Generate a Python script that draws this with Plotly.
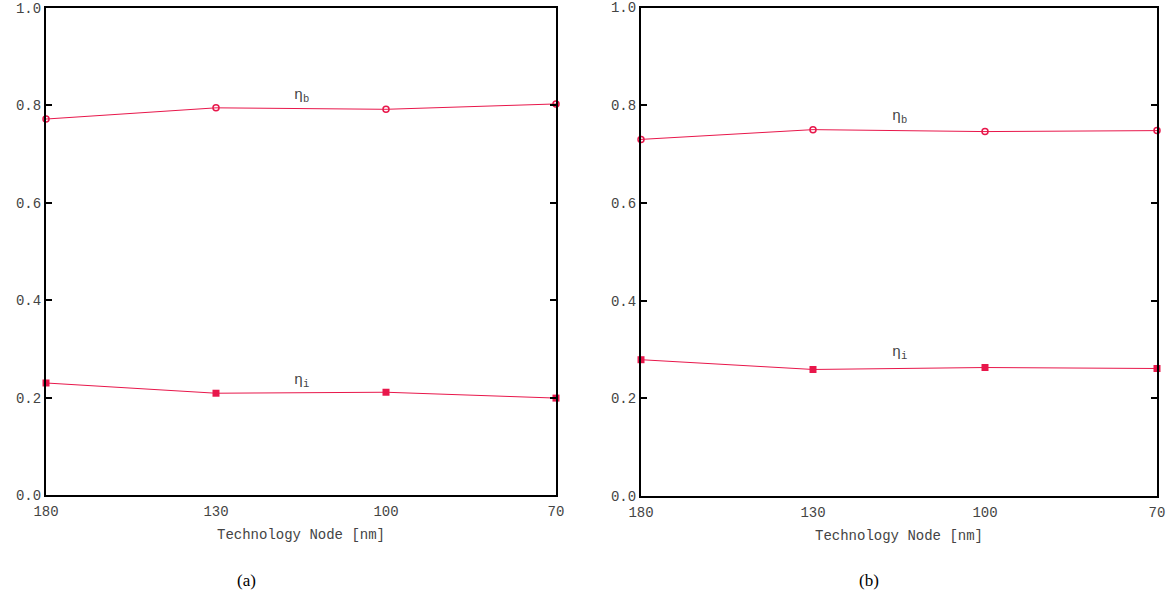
import plotly.graph_objects as go

nodes = ["180", "130", "100", "70"]
eta_b_a = [0.772, 0.795, 0.792, 0.803]
eta_i_a = [0.230, 0.209, 0.211, 0.199]
eta_b_b = [0.730, 0.750, 0.746, 0.748]
eta_i_b = [0.279, 0.259, 0.263, 0.261]
y_ticks = [0.0, 0.2, 0.4, 0.6, 0.8, 1.0]
y_tick_text = ["0.0", "0.2", "0.4", "0.6", "0.8", "1.0"]

RED = "#e8174b"
MONO = "Liberation Mono, Courier New, monospace"
xpos = list(range(len(nodes)))

fig = go.Figure()

def add_pair(b, i, xa, ya):
    fig.add_trace(go.Scatter(x=xpos, y=b, mode="lines+markers", xaxis=xa, yaxis=ya,
                             line=dict(color=RED, width=1),
                             marker=dict(symbol="circle-open", size=6, color=RED, line=dict(width=1.5)),
                             cliponaxis=False, showlegend=False))
    fig.add_trace(go.Scatter(x=xpos, y=i, mode="lines+markers", xaxis=xa, yaxis=ya,
                             line=dict(color=RED, width=1),
                             marker=dict(symbol="square", size=7, color=RED),
                             cliponaxis=False, showlegend=False))

add_pair(eta_b_a, eta_i_a, "x", "y")
add_pair(eta_b_b, eta_i_b, "x2", "y2")

W, H = 1167, 599
def px(v):
    return v / W
def py(v):
    return 1 - v / H

xax = dict(range=[0, 3], tickvals=xpos, ticktext=nodes, showline=True, linecolor="black",
           linewidth=2, mirror=True, ticks="", showgrid=False, zeroline=False, automargin=False,
           ticklabelstandoff=2,
           tickfont=dict(family=MONO, size=14, color="#444"),
           title=dict(text="Technology Node [nm]", font=dict(family=MONO, size=14, color="#444"), standoff=10))
yax = dict(range=[0, 1], tickvals=y_ticks, ticktext=y_tick_text, showline=True, linecolor="black",
           linewidth=2, mirror="ticks", ticks="inside", ticklen=6, tickwidth=1.5, tickcolor="black",
           showgrid=False, zeroline=False, automargin=False,
           tickfont=dict(family=MONO, size=14, color="#444"))

fig.update_layout(
    width=W, height=H, margin=dict(l=0, r=0, t=0, b=0),
    plot_bgcolor="white", paper_bgcolor="white",
    xaxis=dict(xax, domain=[px(46), px(556)], anchor="y"),
    yaxis=dict(yax, domain=[py(495), py(8)], anchor="x"),
    xaxis2=dict(xax, domain=[px(641), px(1157)], anchor="y2"),
    yaxis2=dict(yax, domain=[py(496), py(7.5)], anchor="x2"),
)

ann_font = dict(family=MONO, size=15, color="#444")
def ann(x, y, text, font):
    fig.add_annotation(x=px(x), y=py(y), xref="paper", yref="paper", text=text, showarrow=False,
                       xanchor="center", yanchor="middle", font=font)

ann(301, 96, "η<sub>b</sub>", ann_font)
ann(301, 381, "η<sub>i</sub>", ann_font)
ann(899, 117, "η<sub>b</sub>", ann_font)
ann(899, 353, "η<sub>i</sub>", ann_font)

cap_font = dict(family="Liberation Serif, Times New Roman, serif", size=17, color="black")
ann(246, 580, "(a)", cap_font)
ann(869, 580, "(b)", cap_font)

fig.write_html("out.html", config={"displayModeBar": False},
               post_script="document.body.style.margin='0';document.body.style.overflow='hidden';")
